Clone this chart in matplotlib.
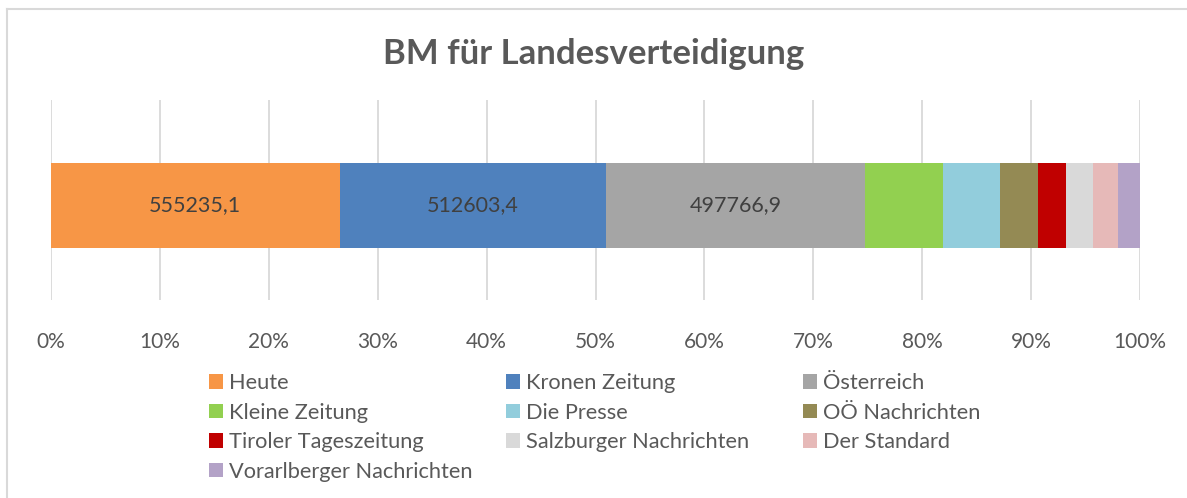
import matplotlib
matplotlib.use('Agg')
import matplotlib.pyplot as plt
from matplotlib.lines import Line2D
from matplotlib.patches import Patch
from matplotlib.ticker import PercentFormatter

# Daten
zeitungen = ['Heute', 'Kronen Zeitung', 'Österreich', 'Kleine Zeitung', 'Die Presse',
             'OÖ Nachrichten', 'Tiroler Tageszeitung', 'Salzburger Nachrichten',
             'Der Standard', 'Vorarlberger Nachrichten']
werte = [555235.1, 512603.4, 497766.9, 150000.0, 109600.0,
         73000.0, 53800.0, 52000.0, 48200.0, 42300.0]
beschriftet = ['Heute', 'Kronen Zeitung', 'Österreich']
farben = ['#F79646', '#4F81BD', '#A5A5A5', '#92D050', '#92CDDC',
          '#948A54', '#C00000', '#D9D9D9', '#E6B9B8', '#B3A2C7']
titel = 'BM für Landesverteidigung'

plt.rcParams['font.family'] = ['Lato', 'DejaVu Sans']

fig = plt.figure(figsize=(11.87, 4.98), dpi=100)
ax = fig.add_axes([51 / 1187, 1 - 300 / 498, 1089 / 1187, 200 / 498])

summe = sum(werte)
links = 0
for name, w, f in zip(zeitungen, werte, farben):
    anteil = w / summe * 100
    ax.barh(0, anteil, left=links, height=0.425, color=f, zorder=2)
    if name in beschriftet:
        ax.text(links + anteil / 2, 0, f'{w:.1f}'.replace('.', ','),
                ha='center', va='center', fontsize=15.5, color='#404040', zorder=3)
    links += anteil

ax.set_xlim(0, 100)
ax.set_ylim(-0.5275, 0.4725)
ax.invert_yaxis()
ax.set_xticks(range(0, 101, 10))
ax.xaxis.set_major_formatter(PercentFormatter(decimals=0))
ax.set_yticks([])
ax.grid(axis='x', color='#D9D9D9', linewidth=1.3, zorder=0)
for s in ax.spines.values():
    s.set_visible(False)
ax.tick_params(axis='x', length=0, pad=23, labelsize=15, labelcolor='#595959')

fig.text(0.5, 1 - 54 / 498, titel, ha='center', va='center',
         fontsize=25, fontweight='bold', color='#595959')

# Legende: drei Spalten, zeilenweise gefuellt wie im Original
spalten_x = [209, 506, 803]
for k, sx in enumerate(spalten_x):
    idx = list(range(k, len(zeitungen), 3))
    griffe = [Patch(facecolor=farben[i], edgecolor='none') for i in idx]
    namen = [zeitungen[i] for i in idx]
    fig.legend(griffe, namen, loc='upper left',
               bbox_to_anchor=(sx / 1187, 1 - 373 / 498), frameon=False,
               fontsize=15.7, labelcolor='#595959', handlelength=0.65, handleheight=0.65,
               handletextpad=0.28, labelspacing=0.44, borderpad=0, borderaxespad=0)

# Rahmen
fig.add_artist(Line2D([7 / 1187, 7 / 1187], [0, 1 - 9 / 498], color='#D9D9D9', linewidth=1.5))
fig.add_artist(Line2D([7 / 1187, 1], [1 - 9 / 498, 1 - 9 / 498], color='#D9D9D9', linewidth=1.5))

fig.savefig('out.png', dpi=100, facecolor='white')
